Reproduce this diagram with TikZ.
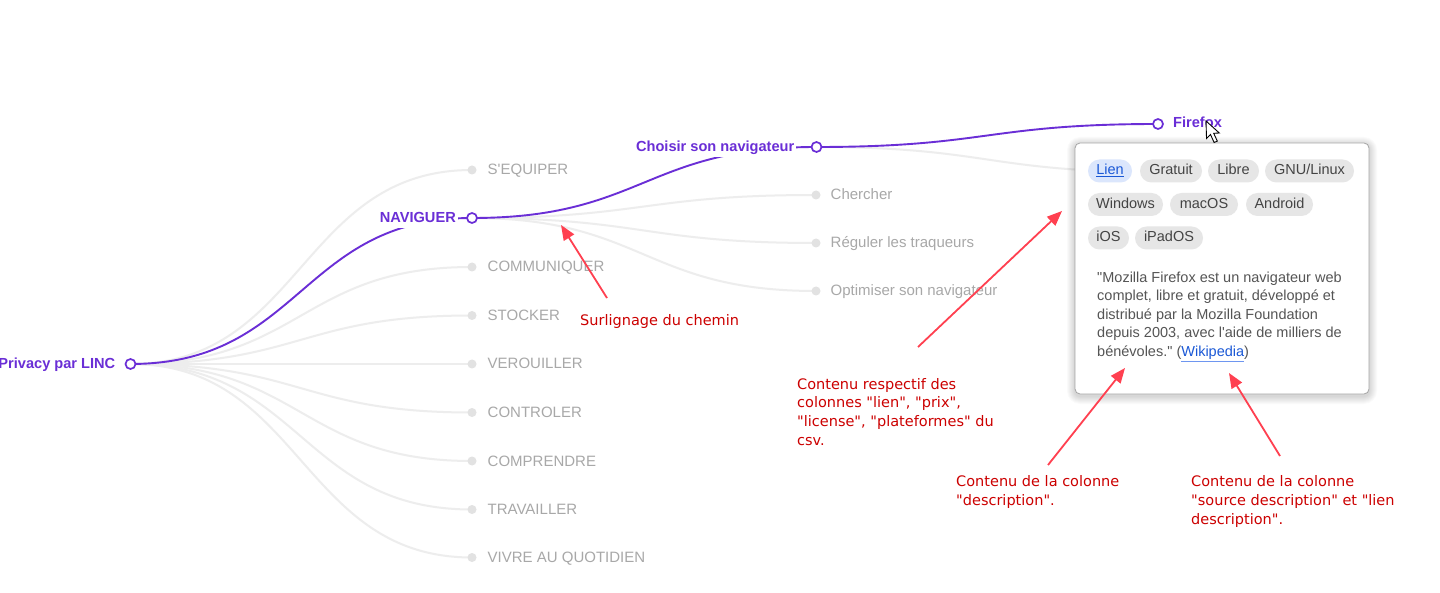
\documentclass[tikz,border=0pt]{standalone}
\usepackage{fontspec}
\newfontfamily\lsans{Liberation Sans}
\newfontfamily\annfont{DejaVu Sans}
\usetikzlibrary{arrows.meta}
\definecolor{tpurple}{RGB}{106,46,214}
\definecolor{linkgrey}{RGB}{237,237,237}
\definecolor{dotgrey}{RGB}{226,226,226}
\definecolor{labelgrey}{RGB}{168,168,168}
\definecolor{chipfill}{RGB}{230,230,230}
\definecolor{chiptext}{RGB}{68,68,68}
\definecolor{lienfill}{RGB}{219,230,252}
\definecolor{linkblue}{RGB}{26,88,214}
\definecolor{ulblue}{RGB}{110,150,240}
\definecolor{desctext}{RGB}{85,85,85}
\definecolor{annred}{RGB}{204,0,0}
\definecolor{arrowred}{RGB}{255,64,80}
\definecolor{popborder}{RGB}{165,165,165}
\newcommand\treelink[3]{\draw[#1] (#2) .. controls +(171,0) and +(-171,0) .. (#3);}
\begin{document}
\begin{tikzpicture}[x=1pt,y=-1pt,
  pnode/.style={circle,draw=tpurple,fill=white,line width=1.7pt,minimum size=10pt,inner sep=0pt},
  gnode/.style={circle,fill=dotgrey,minimum size=9pt,inner sep=0pt},
  glink/.style={draw=linkgrey,line width=2pt},
  plink/.style={draw=tpurple,line width=1.9pt},
  plabel/.style={font=\lsans\bfseries\fontsize{14.6}{17}\selectfont,text=tpurple,fill=white,inner sep=2pt,text depth=3pt},
  glabel/.style={font=\lsans\fontsize{15}{18}\selectfont,text=labelgrey,inner sep=0pt,anchor=base west},
  chip/.style={fill=chipfill,text=chiptext,rounded corners=11.5pt,minimum height=23pt,inner sep=0pt,text height=10.5pt,text depth=3pt,font=\lsans\fontsize{14.5}{17}\selectfont},
  ann/.style={font=\annfont\fontsize{14.5}{18.8}\selectfont,text=annred,align=left,inner sep=0pt,anchor=base west},
  redarrow/.style={draw=arrowred,line width=1.8pt,-{Triangle[length=15pt,width=12pt]}},
  cursorshape/.style={draw=black,fill=white,line width=0.9pt,line join=miter},
  shadowlayer/.style={fill=black,fill opacity=0.02,rounded corners=#1}
]
\useasboundingbox (0,0) rectangle (1440,593);
\fill[white] (0,0) rectangle (1440,593);
% ---------- tree positions ----------
\coordinate (root) at (130.5,364);
\coordinate (equiper) at (472,170);
\coordinate (naviguer) at (472,218);
\coordinate (communiquer) at (472,267);
\coordinate (stocker) at (472,315.5);
\coordinate (verouiller) at (472,364);
\coordinate (controler) at (472,412.5);
\coordinate (comprendre) at (472,461);
\coordinate (travailler) at (472,509.5);
\coordinate (vivre) at (472,557.5);
\coordinate (choisir) at (816.5,147);
\coordinate (chercher) at (816,195);
\coordinate (reguler) at (816,243);
\coordinate (optimiser) at (816,291);
\coordinate (firefox) at (1158,124);
\coordinate (hidden) at (1158,172);
% ---------- links ----------
\foreach \nd in {equiper,communiquer,stocker,verouiller,controler,comprendre,travailler,vivre}{\treelink{glink}{root}{\nd}}
\foreach \nd in {chercher,reguler,optimiser}{\treelink{glink}{naviguer}{\nd}}
\treelink{glink}{choisir}{hidden}
\treelink{plink}{root}{naviguer}
\treelink{plink}{naviguer}{choisir}
\treelink{plink}{choisir}{firefox}
% ---------- dots ----------
\node[pnode] (rootdot) at (root) {};
\foreach \nd in {equiper,communiquer,stocker,verouiller,controler,comprendre,travailler,vivre,chercher,reguler,optimiser}{\node[gnode] (\nd dot) at (\nd) {};}
\node[pnode] (naviguerdot) at (naviguer) {};
\node[pnode] (choisirdot) at (choisir) {};
\node[pnode] (firefoxdot) at (firefox) {};
% ---------- labels ----------
\node[plabel,anchor=base east] (rootlbl) at ([xshift=-13pt,yshift=-4.6pt]root) {Privacy par LINC};
\node[plabel,anchor=base east] (navlbl) at ([xshift=-14pt,yshift=-4.6pt]naviguer) {NAVIGUER};
\node[plabel,anchor=base east] (choisirlbl) at ([xshift=-20pt,yshift=-4.6pt]choisir) {Choisir son navigateur};
\node[plabel,anchor=base west,fill=none] (firefoxlbl) at ([xshift=13pt,yshift=-3.5pt]firefox) {Firefox};
\node[glabel] (equiperlbl) at ([xshift=15.5pt,yshift=-5pt]equiper) {S'EQUIPER};
\node[glabel] (communiquerlbl) at ([xshift=15.5pt,yshift=-5pt]communiquer) {COMMUNIQUER};
\node[glabel] (stockerlbl) at ([xshift=15.5pt,yshift=-5pt]stocker) {STOCKER};
\node[glabel] (verouillerlbl) at ([xshift=15.5pt,yshift=-5pt]verouiller) {VEROUILLER};
\node[glabel] (controlerlbl) at ([xshift=15.5pt,yshift=-5pt]controler) {CONTROLER};
\node[glabel] (comprendrelbl) at ([xshift=15.5pt,yshift=-5pt]comprendre) {COMPRENDRE};
\node[glabel] (travaillerlbl) at ([xshift=15.5pt,yshift=-5pt]travailler) {TRAVAILLER};
\node[glabel] (vivrelbl) at ([xshift=15.5pt,yshift=-5pt]vivre) {VIVRE AU QUOTIDIEN};
\node[glabel] (chercherlbl) at ([xshift=14.5pt,yshift=-5pt]chercher) {Chercher};
\node[glabel] (regulerlbl) at ([xshift=14.5pt,yshift=-5pt]reguler) {Réguler les traqueurs};
\node[glabel] (optimiserlbl) at ([xshift=14.5pt,yshift=-5pt]optimiser) {Optimiser son navigateur};
% ---------- popup ----------
\foreach \k in {1,...,8}{\fill[shadowlayer=5pt+\k pt] (1075-\k,143-\k+2) rectangle (1369+\k,394+\k+2);}
\node[draw=popborder,fill=white,rounded corners=5pt,minimum width=294pt,minimum height=251pt,inner sep=0pt,line width=0.8pt] (popup) at (1222,268.5) {};
\node[chip,fill=lienfill,text=linkblue,minimum width=44pt] (lien) at (1110,171) {\underline{Lien}};
\node[chip,minimum width=62pt] (gratuit) at (1171,171) {Gratuit};
\node[chip,minimum width=51pt] (libre) at (1233.5,171) {Libre};
\node[chip,minimum width=89pt] (gnu) at (1309.5,171) {GNU/Linux};
\node[chip,minimum width=75pt] (windows) at (1125.5,204.5) {Windows};
\node[chip,minimum width=68pt] (macos) at (1204,204.5) {macOS};
\node[chip,minimum width=67pt] (android) at (1279.5,204.5) {Android};
\node[chip,minimum width=41pt] (ios) at (1108.5,238) {iOS};
\node[chip,minimum width=68pt] (ipados) at (1169,238) {iPadOS};
\node[font=\lsans\fontsize{14.5}{18.5}\selectfont,text=desctext,align=left,inner sep=0pt,anchor=base west] (desc) at (1097,356.5)
  {"Mozilla Firefox est un navigateur web\\complet, libre et gratuit, développé et\\distribué par la Mozilla Foundation\\depuis 2003, avec l'aide de milliers de\\bénévoles." ({\color{ulblue}\underline{\textcolor{linkblue}{Wikipedia}}})};
% ---------- cursor ----------
\draw[cursorshape] (1206,121) -- ++(0.5,17.5) -- ++(4,-4) -- ++(3.6,8) -- ++(3.2,-1.4) -- ++(-3.6,-7.8) -- ++(5.6,-0.3) -- cycle;
% ---------- annotations ----------
\node[ann] (surl) at (580,325.5) {Surlignage du chemin};
\node[ann] (cols) at (797,445.4) {Contenu respectif des\\colonnes "lien", "prix",\\"license", "plateformes" du\\csv.};
\node[ann] (descann) at (956,505.3) {Contenu de la colonne\\"description".};
\node[ann] (srcann) at (1191,524.1) {Contenu de la colonne\\"source description" et "lien\\description".};
\coordinate (a1t) at (607,298);
\coordinate (a1h) at (561,225);
\coordinate (a2t) at (918,347);
\coordinate (a2h) at (1062,211);
\coordinate (a3t) at (1048,465);
\coordinate (a3h) at (1125,368);
\coordinate (a4t) at (1280,456);
\coordinate (a4h) at (1229,373);
\draw[redarrow] (a1t) -- (a1h);
\draw[redarrow] (a2t) -- (a2h);
\draw[redarrow] (a3t) -- (a3h);
\draw[redarrow] (a4t) -- (a4h);
\end{tikzpicture}
\end{document}
